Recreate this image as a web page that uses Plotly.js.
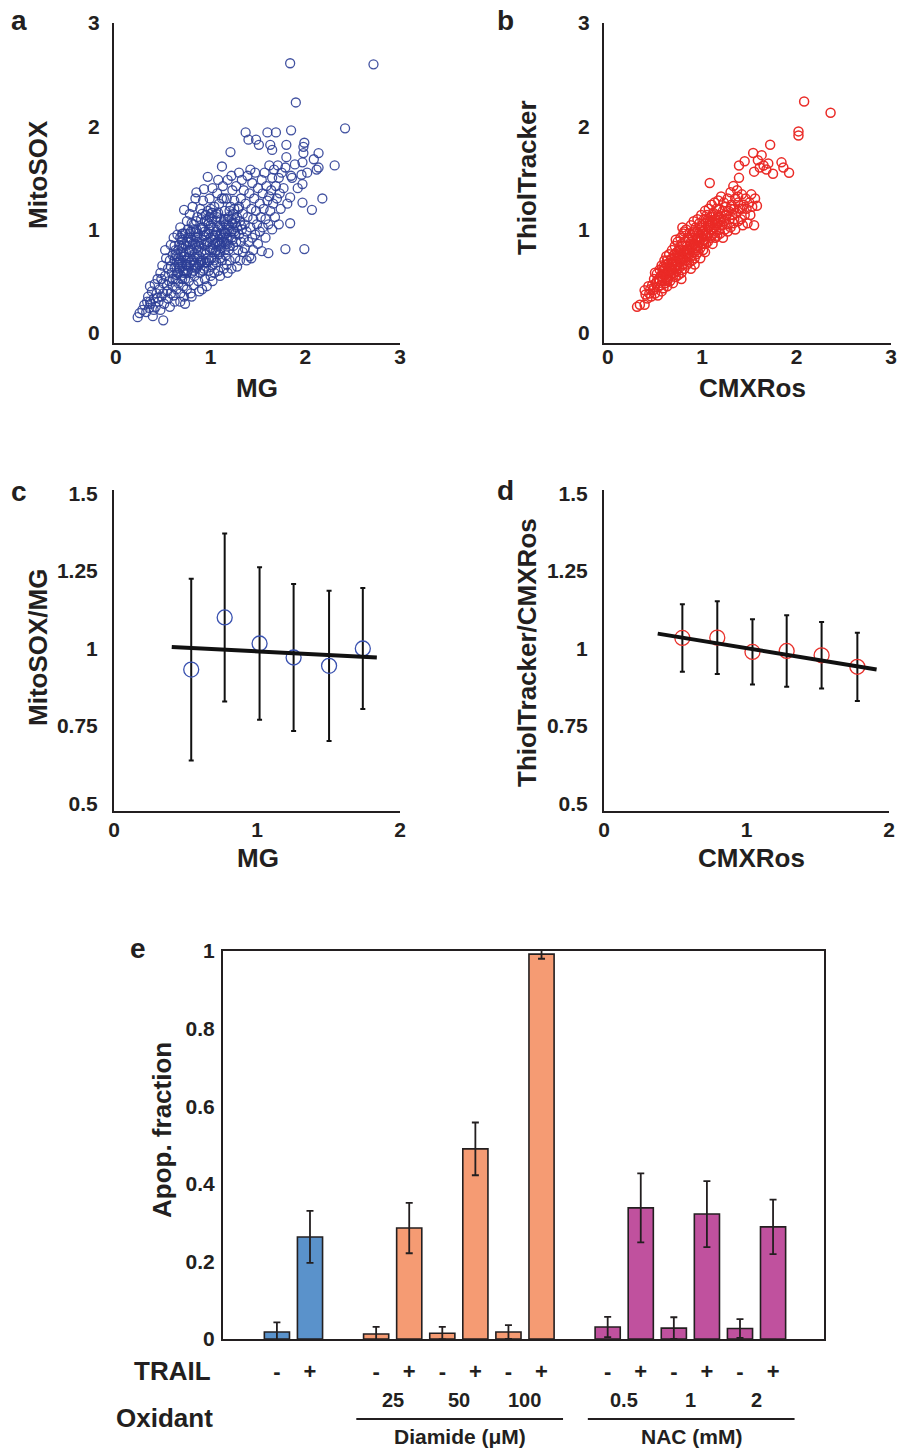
<!DOCTYPE html>
<html>
<head>
<meta charset="utf-8">
<script src="https://cdn.plot.ly/plotly-3.0.1.min.js"></script>
<style>html,body{margin:0;padding:0;background:#fff}#chart{width:898px;height:1450px}</style>
</head>
<body>
<div id="chart"></div>
<script>
// ---------- Panel a: MitoSOX vs MG (single cells) ----------
const mgA = [
 0.23,0.25,0.28,0.30,0.32,0.33,0.35,0.34,
 0.37,0.38,0.39,0.40,0.41,0.42,0.43,0.44,0.45,0.36,
 0.46,0.47,0.48,0.49,0.50,0.50,0.51,0.52,0.53,0.54,0.55,0.55,0.47,0.52,
 0.56,0.57,0.58,0.58,0.59,0.60,0.60,0.61,0.62,0.62,0.63,0.63,0.64,0.64,0.65,0.65,0.57,0.61,
 0.66,0.66,0.67,0.67,0.68,0.68,0.69,0.69,0.70,0.70,0.71,0.71,0.72,0.72,0.73,0.73,0.73,0.74,0.74,0.75,0.75,0.75,0.68,0.72,
 0.76,0.76,0.77,0.77,0.78,0.78,0.79,0.79,0.80,0.80,0.81,0.81,0.82,0.82,0.82,0.83,0.83,0.84,0.84,0.85,0.85,0.85,0.78,0.80,
 0.86,0.86,0.87,0.87,0.88,0.88,0.89,0.89,0.90,0.90,0.91,0.91,0.92,0.92,0.93,0.93,0.93,0.94,0.94,0.95,0.95,0.88,0.91,
 0.96,0.96,0.97,0.97,0.97,0.98,0.98,0.99,0.99,1.00,1.00,1.01,1.01,1.02,1.02,1.03,1.03,1.04,1.04,1.05,1.05,0.99,1.02,
 1.06,1.06,1.07,1.07,1.08,1.08,1.09,1.09,1.10,1.10,1.11,1.11,1.12,1.12,1.13,1.13,1.14,1.14,1.15,1.15,1.08,1.12,
 1.16,1.16,1.17,1.17,1.18,1.18,1.19,1.19,1.20,1.20,1.21,1.21,1.22,1.22,1.23,1.23,1.24,1.24,1.25,1.25,1.18,1.22,
 1.26,1.26,1.27,1.27,1.28,1.28,1.29,1.29,1.30,1.30,1.31,1.31,1.32,1.32,1.33,1.33,1.34,1.34,1.35,1.35,
 1.36,1.36,1.37,1.37,1.38,1.38,1.39,1.39,1.40,1.40,1.41,1.41,1.42,1.42,1.43,1.43,1.44,1.44,1.45,1.45,
 1.46,1.47,1.47,1.48,1.48,1.49,1.50,1.50,1.51,1.52,1.52,1.53,1.54,1.54,1.55,1.55,
 1.56,1.57,1.58,1.58,1.59,1.60,1.60,1.61,1.61,1.62,1.63,1.63,1.64,1.65,1.65,1.62,
 1.66,1.67,1.68,1.69,1.69,1.70,1.71,1.72,1.72,1.74,1.75,1.73,1.65,
 1.77,1.79,1.79,1.80,1.80,1.81,1.84,1.84,1.84,1.85,1.85,1.86,1.89,
 1.90,1.92,1.96,1.97,1.97,1.97,1.98,1.98,1.99,1.99,2.02,2.07,2.09,2.12,2.14,2.14,2.18,2.31,2.42,2.72,
 0.62,0.66,0.70,0.74,0.78,0.82,0.86,0.90,0.94,0.98,1.02,1.06,1.10,1.14,1.18,
 0.64,0.68,0.72,0.76,0.80,0.84,0.88,0.92,0.96,1.00,1.04,1.08,1.12,1.16,1.20,
 0.70,0.75,0.80,0.85,0.90,0.95,1.00,1.05,1.10,1.15,
 0.58,0.62,0.66,0.70,0.74,0.78,0.82,0.86,0.90,0.94,0.98,1.02,1.06,1.10,1.14,1.18,1.22,1.26,1.30,
 0.60,0.64,0.68,0.72,0.76,0.80,0.84,0.88,0.92,0.96,1.00,1.04,1.08,1.12,1.16,1.20,1.24,1.28,1.32,
 0.50,0.54,0.44,0.40,0.36,0.48,
 0.66,0.70,0.74,0.78,0.82,0.86,0.90,0.94,0.98,1.02,1.06,1.10,1.14,1.18,1.22,1.26,
 0.63,0.67,0.71,0.75,0.79,0.83,0.87,0.91,0.95,0.99,1.03,1.07,1.11,1.15,1.19,1.23,
 0.69,0.77,0.85,0.93,1.01,1.09,1.17,1.25
];
const mitoSOX = [
 0.15,0.19,0.22,0.27,0.20,0.30,0.24,0.35,
 0.28,0.40,0.16,0.33,0.47,0.25,0.38,0.52,0.30,0.45,
 0.42,0.58,0.35,0.65,0.12,0.48,0.28,0.55,0.72,0.40,0.62,0.33,0.22,0.80,
 0.50,0.70,0.85,0.38,0.58,0.45,0.75,0.92,0.30,0.63,0.52,0.80,0.68,0.42,0.95,0.58,0.25,0.36,
 0.72,0.48,0.85,0.62,0.38,1.02,0.55,0.78,0.68,0.90,0.45,0.60,1.19,0.74,0.28,0.52,0.96,0.66,0.84,1.08,0.42,0.58,0.30,0.35,
 0.72,0.92,0.50,0.64,1.15,0.80,0.38,0.98,0.58,0.70,0.86,1.22,0.46,0.65,1.05,0.76,0.55,0.93,1.30,0.62,0.82,1.36,0.88,0.35,
 0.72,1.12,0.50,0.96,0.66,0.84,1.20,0.58,0.78,1.02,0.42,0.90,0.70,1.28,1.39,0.62,0.85,1.08,0.52,0.76,0.95,0.40,1.15,
 0.45,0.68,1.51,0.88,1.18,0.60,1.00,0.80,1.30,0.55,0.92,0.72,1.10,0.65,1.40,0.85,1.02,0.58,1.22,0.78,0.95,1.12,0.50,
 0.68,1.15,0.88,1.35,0.60,1.02,0.76,1.25,0.94,0.55,1.10,0.82,1.61,0.70,1.00,1.42,0.88,0.62,1.18,0.96,1.48,1.30,
 0.75,1.05,1.30,0.66,0.90,1.48,1.12,0.80,1.00,0.70,1.75,1.22,0.92,0.62,1.38,1.06,0.84,1.15,0.98,1.28,0.58,1.52,
 0.72,1.10,0.88,1.42,1.02,0.64,1.20,0.80,1.55,0.95,1.08,0.70,1.30,0.88,1.00,1.48,0.78,1.15,1.38,0.92,
 1.05,0.82,1.94,1.25,0.70,0.98,1.52,1.12,1.87,0.88,1.35,0.74,1.02,1.58,0.72,1.20,0.92,1.45,1.10,0.80,
 1.30,1.55,0.95,1.87,1.18,1.05,1.40,0.86,1.82,1.25,0.98,1.12,0.79,1.48,1.35,1.02,
 1.20,1.55,0.92,1.10,1.42,1.94,1.28,0.77,1.05,1.62,1.82,1.18,1.38,1.00,1.50,1.32,
 1.25,1.58,1.12,1.94,1.42,1.30,1.62,1.05,1.50,1.20,1.55,1.35,1.77,
 1.40,0.81,1.60,1.82,1.70,1.25,1.06,1.31,2.61,1.96,1.52,1.50,1.63,
 2.23,1.40,1.53,1.26,1.44,1.65,1.80,1.74,1.84,0.81,1.55,1.19,1.68,1.58,1.60,1.74,1.30,1.62,1.98,2.60,
 0.70,0.66,0.64,0.78,0.74,0.70,0.88,0.86,0.80,0.96,0.90,0.98,1.04,1.08,1.10,
 0.56,0.92,0.86,0.60,0.90,0.98,0.74,0.60,1.08,0.82,0.70,0.88,0.92,0.86,1.18,
 0.52,0.66,0.80,1.00,0.68,0.64,1.20,0.86,0.78,0.80,
 0.64,0.84,0.58,0.82,0.60,0.96,0.60,0.92,1.10,0.68,0.70,1.16,0.80,0.72,1.30,0.86,1.10,0.96,1.22,
 0.52,0.74,0.70,0.58,1.00,1.06,0.86,0.68,1.02,0.86,1.04,0.92,1.16,0.88,0.96,0.84,1.00,1.12,1.04,
 0.38,0.46,0.34,0.22,0.30,0.52,
 0.80,0.96,0.70,0.68,1.00,0.64,0.70,0.98,1.06,0.80,1.08,0.86,0.98,1.00,0.98,1.06,
 0.76,0.68,0.96,0.88,0.92,0.66,0.80,1.00,1.14,0.70,0.94,1.12,0.96,1.10,1.04,0.90,
 0.84,0.78,1.08,0.94,1.16,0.84,0.92,1.20
];

// ---------- Panel b: ThiolTracker vs CMXRos (single cells) ----------
const cmxB = [
 0.31,0.34,0.39,0.39,0.40,0.42,0.43,0.44,
 0.46,0.47,0.48,0.49,0.50,0.51,0.52,0.53,0.54,0.55,0.50,0.53,
 0.56,0.56,0.57,0.58,0.58,0.59,0.60,0.60,0.61,0.61,0.62,0.62,0.63,0.63,0.64,0.64,0.65,0.65,0.57,0.63,
 0.66,0.66,0.67,0.67,0.68,0.68,0.69,0.69,0.70,0.70,0.71,0.71,0.72,0.72,0.73,0.73,0.74,0.74,0.75,0.75,0.68,0.72,
 0.76,0.76,0.77,0.77,0.78,0.78,0.79,0.79,0.80,0.80,0.81,0.81,0.82,0.82,0.83,0.83,0.84,0.84,0.85,0.85,0.78,0.81,0.79,
 0.86,0.86,0.87,0.87,0.88,0.88,0.89,0.89,0.90,0.90,0.91,0.91,0.92,0.92,0.93,0.93,0.94,0.94,0.95,0.95,0.88,0.92,
 0.96,0.96,0.97,0.97,0.98,0.98,0.99,0.99,1.00,1.00,1.01,1.01,1.02,1.02,1.03,1.03,1.04,1.04,1.05,1.05,0.98,1.03,
 1.06,1.06,1.07,1.07,1.08,1.08,1.09,1.09,1.10,1.10,1.11,1.11,1.12,1.12,1.13,1.13,1.14,1.14,1.15,1.15,
 1.16,1.16,1.17,1.17,1.18,1.18,1.19,1.20,1.20,1.21,1.22,1.22,1.23,1.23,1.24,1.25,1.25,
 1.26,1.27,1.27,1.28,1.29,1.30,1.30,1.31,1.32,1.33,1.33,1.34,1.35,1.35,
 1.36,1.37,1.38,1.38,1.39,1.39,1.40,1.41,1.42,1.43,1.44,1.45,1.45,
 1.46,1.47,1.48,1.50,1.51,1.52,1.53,1.54,1.55,1.55,1.56,1.58,1.59,1.61,
 1.63,1.65,1.68,1.70,1.72,1.75,1.84,1.86,1.92,2.02,2.02,2.08,2.36,
 0.60,0.64,0.68,0.72,0.76,0.80,0.84,0.88,0.92,0.96,1.00,1.04,1.08,0.62,0.70,0.78,0.86,0.94,1.02,1.10,
 0.58,0.62,0.66,0.70,0.74,0.78,0.82,0.86,0.90,0.94,0.98,1.02,1.06,1.10,1.14,1.18,1.22,
 0.55,0.59,0.63,0.67,0.71,0.75,0.79,0.83,0.87,0.91,0.95,0.99,1.03,1.07,1.11,1.15,1.19,
 0.45,0.49,0.52,1.26,1.30,1.34,1.38,1.42
];
const thiolTracker = [
 0.25,0.27,0.27,0.41,0.37,0.33,0.45,0.38,
 0.35,0.46,0.41,0.52,0.38,0.48,0.57,0.44,0.52,0.61,0.58,0.36,
 0.46,0.55,0.65,0.50,0.60,0.43,0.56,0.70,0.48,0.63,0.54,0.74,0.60,0.45,0.67,0.52,0.58,0.76,0.40,0.70,
 0.50,0.64,0.71,0.56,0.80,0.62,0.48,0.68,0.58,0.75,0.64,0.84,0.54,0.70,0.78,0.60,0.66,0.88,0.72,0.56,0.72,0.90,
 0.63,0.80,0.70,0.92,0.58,0.76,0.84,0.66,0.72,0.96,0.62,0.80,0.88,0.70,0.76,1.00,0.66,0.84,0.92,0.74,0.52,0.98,1.02,
 0.80,0.68,0.96,0.86,0.74,1.04,0.82,0.70,0.92,0.78,1.08,0.86,0.72,0.96,0.82,1.02,0.76,0.90,1.10,0.84,0.62,0.66,
 0.96,0.78,0.88,1.06,0.82,1.00,0.92,1.14,0.86,1.04,0.96,0.80,1.10,0.90,1.00,1.18,0.86,1.06,0.94,1.14,0.72,0.78,
 1.02,0.88,1.20,0.96,1.08,1.45,0.92,1.12,1.00,1.24,0.86,1.06,1.16,0.96,1.02,1.26,0.92,1.10,1.20,1.00,
 1.06,0.94,1.14,1.28,1.00,1.20,0.96,1.10,1.32,1.04,1.18,0.92,1.26,1.08,1.00,1.14,1.22,
 1.05,1.30,0.98,1.18,1.10,1.36,1.02,1.24,1.14,1.42,1.06,1.20,1.30,1.00,
 1.16,1.38,1.08,1.26,1.50,1.62,1.20,1.10,1.34,1.04,1.24,1.66,1.14,
 1.30,1.20,1.06,1.26,1.14,1.34,1.22,1.74,1.56,1.04,1.30,1.23,1.67,1.60,
 1.72,1.62,1.58,1.64,1.82,1.54,1.65,1.60,1.55,1.95,1.91,2.24,2.13,
 0.62,0.58,0.66,0.64,0.74,0.78,0.80,0.88,0.86,0.92,0.98,0.96,1.04,0.52,0.62,0.70,0.76,0.80,0.90,0.94,
 0.53,0.66,0.61,0.69,0.62,0.86,0.72,0.90,0.84,0.98,0.90,0.86,1.10,1.08,1.04,1.12,1.10,
 0.50,0.64,0.50,0.66,0.76,0.80,0.74,0.80,0.84,0.98,0.92,1.02,0.94,1.04,1.14,1.10,1.04,
 0.42,0.44,0.50,1.14,1.20,1.10,1.32,1.20
];

// ---------- Panel c: MitoSOX/MG binned by MG ----------
const mgBins = [0.54, 0.774, 1.018, 1.256, 1.504, 1.74];
const mitoRatio = [0.932, 1.100, 1.016, 0.971, 0.944, 1.000];
const mitoRatioErr = [0.293, 0.271, 0.246, 0.237, 0.242, 0.195];
const mitoFitX = [0.404, 1.838];
const mitoFitY = [1.005, 0.971];

// ---------- Panel d: ThiolTracker/CMXRos binned by CMXRos ----------
const cmxBins = [0.55, 0.795, 1.042, 1.282, 1.527, 1.778];
const thiolRatio = [1.034, 1.035, 0.989, 0.992, 0.978, 0.941];
const thiolRatioErr = [0.109, 0.117, 0.105, 0.115, 0.107, 0.110];
const thiolFitX = [0.377, 1.913];
const thiolFitY = [1.048, 0.932];

// ---------- Panel e: apoptotic fraction ----------
const oxidantGroup = ['None','None','Diamide','Diamide','Diamide','Diamide','Diamide','Diamide','NAC','NAC','NAC','NAC','NAC','NAC'];
const trailLabels  = ['-','+','-','+','-','+','-','+','-','+','-','+','-','+'];
const doseLabels   = ['','','25','25','50','50','100','100','0.5','0.5','1','1','2','2'];
const apopMean = [0.018, 0.263, 0.013, 0.286, 0.015, 0.490, 0.018, 0.992, 0.031, 0.338, 0.028, 0.322, 0.027, 0.289];
const apopErr  = [0.025, 0.067, 0.018, 0.065, 0.016, 0.068, 0.018, 0.012, 0.026, 0.089, 0.028, 0.085, 0.024, 0.070];
const groupTitles = {Diamide: 'Diamide (μM)', NAC: 'NAC (mM)'};
const groupColors = {None: '#5a92cb', Diamide: '#f59b73', NAC: '#c0519e'};

// ---------- derived layout helpers ----------
const W = 898, H = 1450;
const px = v => v / W;
const py = v => 1 - v / H;
const FONT = 'Liberation Sans, Arial, Helvetica, sans-serif';
const INK = '#231f20';

// bar positions: one slot per bar, one empty slot between oxidant groups
const barX = [];
{ let pos = 0, prev = null;
  oxidantGroup.forEach(g => { pos += (prev !== null && g !== prev) ? 2 : 1; barX.push(pos); prev = g; }); }

const tickFont = {family: FONT, size: 21, color: INK, weight: 'bold'};
function baseAxis(extra) {
  return Object.assign({
    showgrid: false, zeroline: false, showline: true, linecolor: INK, linewidth: 2,
    ticks: '', tickfont: tickFont, fixedrange: true
  }, extra);
}

const traces = [
  {type: 'scatter', mode: 'markers', x: mgA, y: mitoSOX, xaxis: 'x', yaxis: 'y',
   marker: {symbol: 'circle-open', size: 9, color: 'rgba(44,62,150,0.9)', line: {width: 1.3}}, cliponaxis: false},
  {type: 'scatter', mode: 'markers', x: cmxB, y: thiolTracker, xaxis: 'x2', yaxis: 'y2',
   marker: {symbol: 'circle-open', size: 9, color: 'rgb(234,42,38)', line: {width: 1.5}}, cliponaxis: false},
  {type: 'scatter', mode: 'markers', x: mgBins, y: mitoRatio, xaxis: 'x3', yaxis: 'y3',
   error_y: {type: 'data', array: mitoRatioErr, color: '#111', thickness: 2, width: 2.5},
   marker: {symbol: 'circle-open', size: 15, color: '#3a52b0', line: {width: 1.3}}},
  {type: 'scatter', mode: 'lines', x: mitoFitX, y: mitoFitY, xaxis: 'x3', yaxis: 'y3',
   line: {color: '#111', width: 4}},
  {type: 'scatter', mode: 'markers', x: cmxBins, y: thiolRatio, xaxis: 'x4', yaxis: 'y4',
   error_y: {type: 'data', array: thiolRatioErr, color: '#111', thickness: 2, width: 2.5},
   marker: {symbol: 'circle-open', size: 15, color: '#e8322c', line: {width: 1.3}}},
  {type: 'scatter', mode: 'lines', x: thiolFitX, y: thiolFitY, xaxis: 'x4', yaxis: 'y4',
   line: {color: '#111', width: 4}},
  {type: 'bar', x: barX, y: apopMean, xaxis: 'x5', yaxis: 'y5', width: 0.76,
   marker: {color: oxidantGroup.map(g => groupColors[g]), line: {color: INK, width: 1.6}},
   error_y: {type: 'data', array: apopErr, color: INK, thickness: 1.8, width: 3.5}}
];

const annFont = (size) => ({family: FONT, size: size, color: INK, weight: 'bold'});
const annotations = [];
function paperText(text, x, y, size, opts) {
  annotations.push(Object.assign({text: text, xref: 'paper', yref: 'paper', x: px(x), y: py(y),
    xanchor: 'center', yanchor: 'middle', showarrow: false, font: annFont(size)}, opts || {}));
}
// panel letters
paperText('a', 19, 20, 28); paperText('b', 505, 20, 28);
paperText('c', 19, 491, 28); paperText('d', 505, 490, 28);
paperText('e', 138, 949, 28);
// axis titles
paperText('MitoSOX', 38, 175, 26, {textangle: -90});
paperText('MG', 257, 388, 26);
paperText('ThiolTracker', 527, 178, 26, {textangle: -90});
paperText('CMXRos', 752, 388, 26);
paperText('MitoSOX/MG', 38, 648, 26, {textangle: -90});
paperText('MG', 258, 858, 26);
paperText('ThiolTracker/CMXRos', 527, 653, 26, {textangle: -90});
paperText('CMXRos', 751, 858, 26);
paperText('Apop. fraction', 162, 1130, 26, {textangle: -90});
// row headers under panel e
paperText('TRAIL', 213, 1371, 26, {xanchor: 'right'});
paperText('Oxidant', 215, 1418, 26, {xanchor: 'right'});

// dose labels and group underlines
const shapes = [];
for (let i = 0; i < barX.length; i += 2) {
  if (doseLabels[i]) {
    annotations.push({text: doseLabels[i], xref: 'x5', yref: 'paper', x: (barX[i] + barX[i+1]) / 2, y: py(1400),
      xanchor: 'center', yanchor: 'middle', showarrow: false, font: annFont(20)});
  }
}
Object.keys(groupTitles).forEach(g => {
  const xs = barX.filter((_, i) => oxidantGroup[i] === g);
  const x0 = Math.min(...xs) - 0.6, x1 = Math.max(...xs) + 0.65;
  shapes.push({type: 'line', xref: 'x5', yref: 'paper', x0: x0, x1: x1, y0: py(1419), y1: py(1419),
    line: {color: INK, width: 2}});
  annotations.push({text: groupTitles[g], xref: 'x5', yref: 'paper', x: (x0 + x1) / 2, y: py(1436),
    xanchor: 'center', yanchor: 'middle', showarrow: false, font: annFont(21)});
});

const layout = {
  width: W, height: H, margin: {l: 0, r: 0, t: 0, b: 0},
  paper_bgcolor: '#fff', plot_bgcolor: 'rgba(0,0,0,0)', showlegend: false,
  font: {family: FONT, color: INK},
  xaxis:  baseAxis({domain: [px(114), px(400)], range: [-0.02, 3], tickvals: [0,1,2,3], anchor: 'y', ticklabelstandoff: -6}),
  yaxis:  baseAxis({domain: [py(343), py(23)], range: [-0.1, 3], tickvals: [0,1,2,3], anchor: 'x', ticklabelstandoff: 8}),
  xaxis2: baseAxis({domain: [px(604), px(891)], range: [-0.04, 3], tickvals: [0,1,2,3], anchor: 'y2', ticklabelstandoff: -6}),
  yaxis2: baseAxis({domain: [py(343), py(23)], range: [-0.1, 3], tickvals: [0,1,2,3], anchor: 'x2', ticklabelstandoff: 8}),
  xaxis3: baseAxis({domain: [px(114), px(400)], range: [0, 2], tickvals: [0,1,2], anchor: 'y3', ticklabelstandoff: -1}),
  yaxis3: baseAxis({domain: [py(811), py(490)], range: [0.476, 1.511], tickvals: [0.5,0.75,1,1.25,1.5], anchor: 'x3', ticklabelstandoff: 10}),
  xaxis4: baseAxis({domain: [px(604), px(889)], range: [0, 2], tickvals: [0,1,2], anchor: 'y4', ticklabelstandoff: -1}),
  yaxis4: baseAxis({domain: [py(811), py(490)], range: [0.476, 1.511], tickvals: [0.5,0.75,1,1.25,1.5], anchor: 'x4', ticklabelstandoff: 10}),
  xaxis5: baseAxis({domain: [px(223), px(824)], range: [-0.63, 17.54], tickvals: barX, ticktext: trailLabels,
    anchor: 'y5', mirror: true, ticklabelstandoff: 12, tickfont: annFont(22)}),
  yaxis5: baseAxis({domain: [py(1339), py(951)], range: [0, 1], tickvals: [0,0.2,0.4,0.6,0.8,1], anchor: 'x5', mirror: true, ticklabelstandoff: 2}),
  annotations: annotations,
  shapes: shapes
};

Plotly.newPlot('chart', traces, layout, {displayModeBar: false, staticPlot: true});
</script>
</body>
</html>
